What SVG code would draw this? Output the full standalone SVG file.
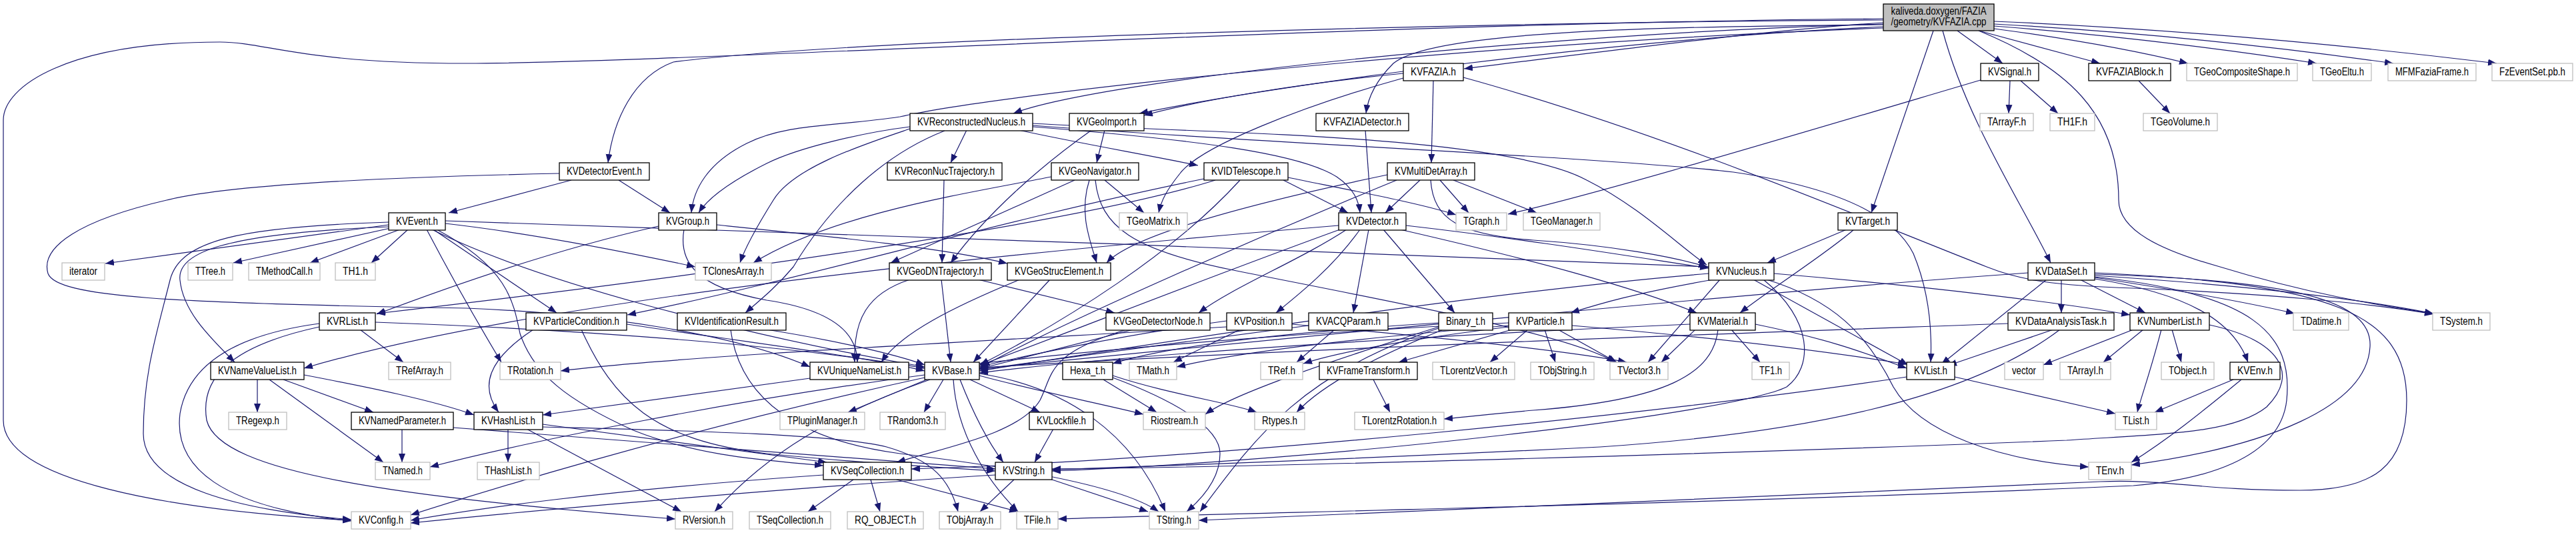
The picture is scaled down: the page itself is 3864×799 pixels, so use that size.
<svg xmlns="http://www.w3.org/2000/svg" width="3864" height="799" viewBox="0 0 3864 799">
<defs>
<marker id="a" markerUnits="userSpaceOnUse" markerWidth="14" markerHeight="11" refX="13" refY="5" orient="auto"><path d="M0,0 L13,5 L0,10 z" fill="#191970"/></marker>
</defs>
<style>
.e path{fill:none;stroke:#191970;stroke-width:1.2;marker-end:url(#a)}
.n rect{fill:#fff;stroke:#000;stroke-width:1.3}
.x rect{fill:#fff;stroke:#bfbfbf;stroke-width:1.3}
.r rect{fill:#bfbfbf;stroke:#000;stroke-width:1.3}
text{font-family:"Liberation Sans",Arial,sans-serif;font-size:16px;text-anchor:middle;fill:#000}
</style>
<rect width="3864" height="799" fill="#fff"/>
<g id="edges" class="e">
<path d="M2825,34 C2650,45 2400,78 2196,103"/>
<path d="M2936,46 L3004,95"/>
<path d="M2968,46 L3150,95"/>
<path d="M2991,43 C3120,60 3220,80 3282,95"/>
<path d="M2991,39 C3200,55 3380,80 3475,95"/>
<path d="M2991,36 C3250,50 3470,78 3590,95"/>
<path d="M2991,32 C3300,45 3580,75 3745,95"/>
<path d="M2900,46 L2807,319"/>
<path d="M2914,46 C2950,180 3030,300 3076,394"/>
<path d="M2968,46 C3100,100 3178,170 3178,300 C3178,345 3240,375 3330,400 C3460,440 3570,458 3650,470"/>
<path d="M2825,30 C2300,33 1300,55 1010,93 C950,115 920,180 912,244"/>
<path d="M2825,28 C2000,35 1000,95 700,95 C450,95 400,63 330,63 C100,63 5,130 5,180 L5,630 C5,720 250,765 527,780"/>
<path d="M2825,36 C2300,50 1650,120 1520,170"/>
<path d="M2825,40 C2400,60 1900,130 1709,170"/>
<path d="M2825,42 C2200,65 1500,140 1350,175 C1250,190 1180,185 1120,215 C1060,245 1040,285 1037,319"/>
<path d="M2825,37 C2500,40 2150,45 2090,95 C2065,120 2052,145 2049,170"/>
<path d="M2105,110 C1950,125 1800,150 1716,173"/>
<path d="M2105,117 C1950,160 1800,220 1770,260 C1750,285 1742,300 1738,319"/>
<path d="M2150,121 L2147,244"/>
<path d="M2195,116 C2500,200 2800,330 2980,400 C3030,420 3080,428 3200,432 C3400,440 3560,455 3650,471"/>
<path d="M3015,121 L3013,170"/>
<path d="M3031,121 L3087,170"/>
<path d="M2971,120 C2700,200 2400,290 2262,321"/>
<path d="M3208,121 L3255,170"/>
<path d="M1450,195 L1426,244"/>
<path d="M1528,195 C1620,215 1720,232 1797,248"/>
<path d="M1365,190 C1300,198 1200,220 1150,245 C1090,275 1060,300 1048,319"/>
<path d="M1365,193 C1300,215 1190,250 1160,300 C1135,340 1118,370 1110,394"/>
<path d="M1417,196 C1330,230 1250,300 1190,400 C1165,430 1140,450 1118,469"/>
<path d="M1549,185 C1800,200 2250,200 2380,270 C2460,310 2520,370 2560,397"/>
<path d="M1549,188 C1900,215 2400,235 2600,258 C2750,280 2840,320 2870,380 C2895,440 2898,500 2896,543"/>
<path d="M1549,190 C1800,210 1950,230 2005,265 C2030,282 2038,300 2040,319"/>
<path d="M1657,195 L1645,244"/>
<path d="M1636,196 C1560,250 1480,320 1426,394"/>
<path d="M1416,270 L1413,394"/>
<path d="M1657,270 L1716,319"/>
<path d="M1612,270 L1336,394"/>
<path d="M1577,265 C1450,290 1250,320 1130,394"/>
<path d="M1634,270 C1618,320 1635,360 1645,394"/>
<path d="M1643,270 C1650,340 1700,375 1850,405 C2100,455 2350,500 2423,543"/>
<path d="M1925,270 L2022,319"/>
<path d="M1932,266 C2050,290 2130,305 2184,322"/>
<path d="M1860,270 C1760,380 1600,480 1470,547"/>
<path d="M1823,270 C1600,340 1000,420 565,470"/>
<path d="M1806,268 C1500,330 1200,420 941,472"/>
<path d="M2048,195 L2057,319"/>
<path d="M2130,270 L2078,319"/>
<path d="M2160,270 L2203,319"/>
<path d="M2180,270 L2305,319"/>
<path d="M2146,270 C2150,330 2190,352 2300,360 C2420,368 2510,385 2561,400"/>
<path d="M2081,262 C1900,300 1700,350 1660,394"/>
<path d="M2095,270 C1900,350 1600,480 1472,550"/>
<path d="M857,270 L673,319"/>
<path d="M928,270 L1005,319"/>
<path d="M839,260 C600,265 350,275 250,300 C120,330 60,370 72,410 C85,445 250,455 700,462 C900,470 1100,500 1215,550"/>
<path d="M583,337 L158,395"/>
<path d="M590,341 L350,394"/>
<path d="M600,344 L465,394"/>
<path d="M612,344 L557,394"/>
<path d="M583,333 C360,340 270,360 255,420 C235,500 215,560 215,650 C215,730 360,765 527,779"/>
<path d="M583,340 C330,350 265,380 270,420 C275,470 320,510 352,543"/>
<path d="M650,344 L835,469"/>
<path d="M668,335 C800,350 950,380 1043,400"/>
<path d="M640,344 C680,420 720,490 752,543"/>
<path d="M668,331 C1200,350 2000,375 2563,400"/>
<path d="M648,344 C800,420 1100,500 1387,550"/>
<path d="M655,344 C760,400 770,450 780,500 C800,560 850,600 950,645 C1050,685 1150,690 1235,698"/>
<path d="M1075,337 C1250,355 1420,372 1511,395"/>
<path d="M988,339 C850,370 700,420 565,471"/>
<path d="M1026,344 C1018,390 1040,430 1150,450 C1250,465 1286,500 1286,543"/>
<path d="M540,494 L605,543"/>
<path d="M479,485 C330,505 280,560 270,620 C260,700 330,760 527,781"/>
<path d="M563,483 C900,495 1200,520 1387,552"/>
<path d="M479,490 C340,520 300,570 310,630 C330,710 600,745 1013,778"/>
<path d="M386,569 L386,618"/>
<path d="M425,569 L560,618"/>
<path d="M404,569 L575,693"/>
<path d="M456,562 C550,580 650,600 711,622"/>
<path d="M603,643 L603,693"/>
<path d="M680,641 C900,660 1200,680 1493,703"/>
<path d="M762,643 L762,693"/>
<path d="M790,643 L1022,767"/>
<path d="M814,636 C1000,660 1150,680 1240,693"/>
<path d="M814,640 C1000,645 1250,650 1330,670 C1400,690 1425,720 1437,767"/>
<path d="M1215,567 L814,622"/>
<path d="M1280,719 L1212,767"/>
<path d="M1306,719 L1320,767"/>
<path d="M1345,719 L1527,767"/>
<path d="M1235,712 C900,735 700,765 616,780"/>
<path d="M1521,719 L1470,767"/>
<path d="M1575,718 L1722,767"/>
<path d="M1493,712 C1200,730 800,765 616,784"/>
<path d="M1580,643 L1552,693"/>
<path d="M1415,569 L1386,618"/>
<path d="M1455,569 L1560,618"/>
<path d="M1469,563 C1550,585 1650,605 1715,621"/>
<path d="M1469,560 C1600,580 1700,650 1748,767"/>
<path d="M1430,569 C1435,650 1480,720 1527,767"/>
<path d="M1390,569 L1272,618"/>
<path d="M1387,562 C1100,600 800,660 645,700"/>
<path d="M1387,566 C1000,650 700,745 616,772"/>
<path d="M1395,569 C1250,620 1150,680 1072,767"/>
<path d="M1440,569 C1460,620 1480,660 1505,693"/>
<path d="M1655,569 L1735,618"/>
<path d="M1669,563 C1750,590 1850,605 1885,618"/>
<path d="M1669,566 C1760,600 1830,640 1830,680 C1830,720 1800,750 1780,767"/>
<path d="M1860,494 L1760,543"/>
<path d="M1840,481 C1700,500 1550,530 1469,550"/>
<path d="M1938,486 C2150,505 2350,525 2440,543"/>
<path d="M1840,490 C1500,510 1000,535 841,556"/>
<path d="M1700,494 L1469,553"/>
<path d="M1690,494 C1570,530 1580,560 1560,600 C1530,650 1420,670 1345,693"/>
<path d="M1412,419 L1426,543"/>
<path d="M1365,419 C1300,440 1280,480 1282,543"/>
<path d="M1467,419 L1672,469"/>
<path d="M1575,419 L1460,543"/>
<path d="M1530,419 C1430,460 1350,500 1322,543"/>
<path d="M2053,344 L2030,469"/>
<path d="M2040,344 C2000,400 1950,440 1914,469"/>
<path d="M2075,344 L2182,469"/>
<path d="M2100,344 C2300,390 2450,430 2545,469"/>
<path d="M2109,338 C2300,360 2450,385 2563,402"/>
<path d="M2010,344 C1800,420 1600,500 1469,548"/>
<path d="M2008,338 C1500,380 800,450 456,552"/>
<path d="M2020,344 C1950,390 1850,430 1798,469"/>
<path d="M2770,344 L2651,394"/>
<path d="M2781,344 C2740,380 2660,430 2610,469"/>
<path d="M2570,419 C2450,440 2400,455 2356,469"/>
<path d="M2580,419 L2472,543"/>
<path d="M2661,410 C2900,430 3100,455 3195,472"/>
<path d="M2650,419 C2750,450 2800,500 2840,580 C2880,650 3000,690 3133,700"/>
<path d="M2645,419 C2720,480 2720,550 2680,580 C2600,620 2000,690 1578,706"/>
<path d="M2630,419 L2862,547"/>
<path d="M2563,410 C2200,440 1700,520 1469,556"/>
<path d="M2597,494 L2640,543"/>
<path d="M2633,486 C2750,510 2800,530 2860,552"/>
<path d="M2535,486 C2200,500 1700,530 1469,559"/>
<path d="M2543,494 L2492,543"/>
<path d="M2577,494 C2570,560 2500,600 2300,615 C2220,622 2190,626 2166,628"/>
<path d="M2292,494 L2235,543"/>
<path d="M2317,494 L2333,543"/>
<path d="M2337,494 L2425,543"/>
<path d="M2268,494 L2098,543"/>
<path d="M2263,484 C1900,500 1600,530 1469,545"/>
<path d="M2358,488 C2500,500 2700,520 2860,546"/>
<path d="M2263,490 C2100,510 2000,530 1955,545"/>
<path d="M2263,488 C2000,510 1850,530 1765,550"/>
<path d="M2158,484 C1900,500 1750,520 1669,545"/>
<path d="M2158,490 C2000,540 1850,590 1808,621"/>
<path d="M2158,492 C1950,560 1880,660 1800,767"/>
<path d="M2165,494 C2050,540 1980,580 1945,618"/>
<path d="M2002,494 L1945,543"/>
<path d="M1963,488 C1800,510 1600,535 1469,554"/>
<path d="M2060,569 L2085,618"/>
<path d="M1150,494 C1250,510 1340,530 1387,547"/>
<path d="M1096,494 C1110,600 1200,660 1350,680 C1600,710 1700,740 1738,767"/>
<path d="M800,494 C730,540 720,580 748,618"/>
<path d="M872,494 C920,600 980,660 1150,680 C1300,695 1400,700 1493,706"/>
<path d="M940,486 C1100,510 1300,535 1387,556"/>
<path d="M3258,494 L3272,543"/>
<path d="M3242,494 C3225,560 3210,600 3206,618"/>
<path d="M3314,487 C3420,510 3450,560 3400,610 C3350,650 3250,650 3100,660 C2600,680 1900,700 1578,703"/>
<path d="M3200,494 L3065,547"/>
<path d="M3215,494 L3155,543"/>
<path d="M3350,569 L3232,618"/>
<path d="M3362,569 C3300,620 3250,660 3197,693"/>
<path d="M2932,565 L3173,620"/>
<path d="M2860,565 C2500,620 1800,690 1367,703"/>
<path d="M3080,494 L2922,548"/>
<path d="M3012,485 C2600,500 2000,520 1469,551"/>
<path d="M3090,494 C2950,600 2700,650 2400,670 C2000,690 1700,700 1578,704"/>
<path d="M3092,419 L3092,469"/>
<path d="M3070,419 L2912,546"/>
<path d="M3120,419 L3218,469"/>
<path d="M3142,416 C3300,440 3400,460 3442,470"/>
<path d="M3142,413 C3400,430 3560,452 3650,470"/>
<path d="M3142,418 C3280,440 3350,480 3372,543"/>
<path d="M3142,411 C3400,420 3560,440 3555,520 C3550,610 3400,670 3197,697"/>
<path d="M3142,409 C3500,425 3610,470 3610,600 C3610,700 3560,735 3450,735 C3300,735 3250,718 3150,722 C2800,735 2200,765 1798,780"/>
<path d="M3142,415 C3380,440 3440,500 3430,600 C3420,690 3300,720 3200,728 C2600,755 1800,770 1587,778"/>
<path d="M3042,409 C2600,440 1800,520 1469,553"/>
</g>
<g id="root" class="r"><rect x="2825" y="6" width="166" height="40"/><text x="2908" y="22" textLength="143" lengthAdjust="spacingAndGlyphs">kaliveda.doxygen/FAZIA</text><text x="2908" y="38" textLength="143" lengthAdjust="spacingAndGlyphs">/geometry/KVFAZIA.cpp</text></g>
<g id="KVFAZIA_h" class="n"><rect x="2105" y="95" width="90" height="26"/><text x="2150" y="113" textLength="68" lengthAdjust="spacingAndGlyphs">KVFAZIA.h</text></g>
<g id="KVSignal_h" class="n"><rect x="2971" y="95" width="87" height="26"/><text x="3014.5" y="113" textLength="65" lengthAdjust="spacingAndGlyphs">KVSignal.h</text></g>
<g id="KVFAZIABlock_h" class="n"><rect x="3133" y="95" width="123" height="26"/><text x="3194.5" y="113" textLength="101" lengthAdjust="spacingAndGlyphs">KVFAZIABlock.h</text></g>
<g id="TGeoCompositeShape_h" class="x"><rect x="3280" y="95" width="166" height="26"/><text x="3363" y="113" textLength="144" lengthAdjust="spacingAndGlyphs">TGeoCompositeShape.h</text></g>
<g id="TGeoEltu_h" class="x"><rect x="3469" y="95" width="88" height="26"/><text x="3513" y="113" textLength="66" lengthAdjust="spacingAndGlyphs">TGeoEltu.h</text></g>
<g id="MFMFaziaFrame_h" class="x"><rect x="3582" y="95" width="132" height="26"/><text x="3648" y="113" textLength="110" lengthAdjust="spacingAndGlyphs">MFMFaziaFrame.h</text></g>
<g id="FzEventSet_pb_h" class="x"><rect x="3738" y="95" width="121" height="26"/><text x="3798.5" y="113" textLength="99" lengthAdjust="spacingAndGlyphs">FzEventSet.pb.h</text></g>
<g id="KVReconstructedNucleus_h" class="n"><rect x="1365" y="170" width="184" height="26"/><text x="1457" y="188" textLength="162" lengthAdjust="spacingAndGlyphs">KVReconstructedNucleus.h</text></g>
<g id="KVGeoImport_h" class="n"><rect x="1604" y="170" width="112" height="26"/><text x="1660" y="188" textLength="90" lengthAdjust="spacingAndGlyphs">KVGeoImport.h</text></g>
<g id="KVFAZIADetector_h" class="n"><rect x="1974" y="170" width="139" height="26"/><text x="2043.5" y="188" textLength="117" lengthAdjust="spacingAndGlyphs">KVFAZIADetector.h</text></g>
<g id="TArrayF_h" class="x"><rect x="2970" y="170" width="80" height="26"/><text x="3010" y="188" textLength="58" lengthAdjust="spacingAndGlyphs">TArrayF.h</text></g>
<g id="TH1F_h" class="x"><rect x="3075" y="170" width="67" height="26"/><text x="3108.5" y="188" textLength="45" lengthAdjust="spacingAndGlyphs">TH1F.h</text></g>
<g id="TGeoVolume_h" class="x"><rect x="3215" y="170" width="111" height="26"/><text x="3270.5" y="188" textLength="89" lengthAdjust="spacingAndGlyphs">TGeoVolume.h</text></g>
<g id="KVDetectorEvent_h" class="n"><rect x="839" y="244" width="135" height="26"/><text x="906.5" y="262" textLength="113" lengthAdjust="spacingAndGlyphs">KVDetectorEvent.h</text></g>
<g id="KVReconNucTrajectory_h" class="n"><rect x="1331" y="244" width="172" height="26"/><text x="1417" y="262" textLength="150" lengthAdjust="spacingAndGlyphs">KVReconNucTrajectory.h</text></g>
<g id="KVGeoNavigator_h" class="n"><rect x="1577" y="244" width="131" height="26"/><text x="1642.5" y="262" textLength="109" lengthAdjust="spacingAndGlyphs">KVGeoNavigator.h</text></g>
<g id="KVIDTelescope_h" class="n"><rect x="1806" y="244" width="126" height="26"/><text x="1869" y="262" textLength="104" lengthAdjust="spacingAndGlyphs">KVIDTelescope.h</text></g>
<g id="KVMultiDetArray_h" class="n"><rect x="2081" y="244" width="131" height="26"/><text x="2146.5" y="262" textLength="109" lengthAdjust="spacingAndGlyphs">KVMultiDetArray.h</text></g>
<g id="KVEvent_h" class="n"><rect x="583" y="319" width="85" height="26"/><text x="625.5" y="337" textLength="63" lengthAdjust="spacingAndGlyphs">KVEvent.h</text></g>
<g id="KVGroup_h" class="n"><rect x="988" y="319" width="87" height="26"/><text x="1031.5" y="337" textLength="65" lengthAdjust="spacingAndGlyphs">KVGroup.h</text></g>
<g id="TGeoMatrix_h" class="x"><rect x="1679" y="319" width="102" height="26"/><text x="1730" y="337" textLength="80" lengthAdjust="spacingAndGlyphs">TGeoMatrix.h</text></g>
<g id="KVDetector_h" class="n"><rect x="2008" y="319" width="101" height="26"/><text x="2058.5" y="337" textLength="79" lengthAdjust="spacingAndGlyphs">KVDetector.h</text></g>
<g id="TGraph_h" class="x"><rect x="2184" y="319" width="76" height="26"/><text x="2222" y="337" textLength="54" lengthAdjust="spacingAndGlyphs">TGraph.h</text></g>
<g id="TGeoManager_h" class="x"><rect x="2285" y="319" width="115" height="26"/><text x="2342.5" y="337" textLength="93" lengthAdjust="spacingAndGlyphs">TGeoManager.h</text></g>
<g id="KVTarget_h" class="n"><rect x="2757" y="319" width="89" height="26"/><text x="2801.5" y="337" textLength="67" lengthAdjust="spacingAndGlyphs">KVTarget.h</text></g>
<g id="iterator" class="x"><rect x="93" y="394" width="64" height="26"/><text x="125" y="412" textLength="42" lengthAdjust="spacingAndGlyphs">iterator</text></g>
<g id="TTree_h" class="x"><rect x="282" y="394" width="67" height="26"/><text x="315.5" y="412" textLength="45" lengthAdjust="spacingAndGlyphs">TTree.h</text></g>
<g id="TMethodCall_h" class="x"><rect x="373" y="394" width="107" height="26"/><text x="426.5" y="412" textLength="85" lengthAdjust="spacingAndGlyphs">TMethodCall.h</text></g>
<g id="TH1_h" class="x"><rect x="503" y="394" width="60" height="26"/><text x="533" y="412" textLength="38" lengthAdjust="spacingAndGlyphs">TH1.h</text></g>
<g id="TClonesArray_h" class="x"><rect x="1043" y="394" width="114" height="26"/><text x="1100" y="412" textLength="92" lengthAdjust="spacingAndGlyphs">TClonesArray.h</text></g>
<g id="KVGeoDNTrajectory_h" class="n"><rect x="1334" y="394" width="153" height="26"/><text x="1410.5" y="412" textLength="131" lengthAdjust="spacingAndGlyphs">KVGeoDNTrajectory.h</text></g>
<g id="KVGeoStrucElement_h" class="n"><rect x="1511" y="394" width="155" height="26"/><text x="1588.5" y="412" textLength="133" lengthAdjust="spacingAndGlyphs">KVGeoStrucElement.h</text></g>
<g id="KVNucleus_h" class="n"><rect x="2563" y="394" width="98" height="26"/><text x="2612" y="412" textLength="76" lengthAdjust="spacingAndGlyphs">KVNucleus.h</text></g>
<g id="KVDataSet_h" class="n"><rect x="3042" y="394" width="100" height="26"/><text x="3092" y="412" textLength="78" lengthAdjust="spacingAndGlyphs">KVDataSet.h</text></g>
<g id="KVRList_h" class="n"><rect x="479" y="469" width="84" height="26"/><text x="521" y="487" textLength="62" lengthAdjust="spacingAndGlyphs">KVRList.h</text></g>
<g id="KVParticleCondition_h" class="n"><rect x="789" y="469" width="151" height="26"/><text x="864.5" y="487" textLength="129" lengthAdjust="spacingAndGlyphs">KVParticleCondition.h</text></g>
<g id="KVIdentificationResult_h" class="n"><rect x="1016" y="469" width="163" height="26"/><text x="1097.5" y="487" textLength="141" lengthAdjust="spacingAndGlyphs">KVIdentificationResult.h</text></g>
<g id="KVGeoDetectorNode_h" class="n"><rect x="1659" y="469" width="156" height="26"/><text x="1737" y="487" textLength="134" lengthAdjust="spacingAndGlyphs">KVGeoDetectorNode.h</text></g>
<g id="KVPosition_h" class="n"><rect x="1840" y="469" width="98" height="26"/><text x="1889" y="487" textLength="76" lengthAdjust="spacingAndGlyphs">KVPosition.h</text></g>
<g id="KVACQParam_h" class="n"><rect x="1963" y="469" width="119" height="26"/><text x="2022.5" y="487" textLength="97" lengthAdjust="spacingAndGlyphs">KVACQParam.h</text></g>
<g id="Binary_t_h" class="n"><rect x="2158" y="469" width="81" height="26"/><text x="2198.5" y="487" textLength="59" lengthAdjust="spacingAndGlyphs">Binary_t.h</text></g>
<g id="KVParticle_h" class="n"><rect x="2263" y="469" width="95" height="26"/><text x="2310.5" y="487" textLength="73" lengthAdjust="spacingAndGlyphs">KVParticle.h</text></g>
<g id="KVMaterial_h" class="n"><rect x="2535" y="469" width="98" height="26"/><text x="2584" y="487" textLength="76" lengthAdjust="spacingAndGlyphs">KVMaterial.h</text></g>
<g id="KVDataAnalysisTask_h" class="n"><rect x="3012" y="469" width="159" height="26"/><text x="3091.5" y="487" textLength="137" lengthAdjust="spacingAndGlyphs">KVDataAnalysisTask.h</text></g>
<g id="KVNumberList_h" class="n"><rect x="3195" y="469" width="119" height="26"/><text x="3254.5" y="487" textLength="97" lengthAdjust="spacingAndGlyphs">KVNumberList.h</text></g>
<g id="TDatime_h" class="x"><rect x="3440" y="469" width="83" height="26"/><text x="3481.5" y="487" textLength="61" lengthAdjust="spacingAndGlyphs">TDatime.h</text></g>
<g id="TSystem_h" class="x"><rect x="3649" y="469" width="86" height="26"/><text x="3692" y="487" textLength="64" lengthAdjust="spacingAndGlyphs">TSystem.h</text></g>
<g id="KVNameValueList_h" class="n"><rect x="316" y="543" width="140" height="26"/><text x="386" y="561" textLength="118" lengthAdjust="spacingAndGlyphs">KVNameValueList.h</text></g>
<g id="TRefArray_h" class="x"><rect x="583" y="543" width="93" height="26"/><text x="629.5" y="561" textLength="71" lengthAdjust="spacingAndGlyphs">TRefArray.h</text></g>
<g id="TRotation_h" class="x"><rect x="750" y="543" width="91" height="26"/><text x="795.5" y="561" textLength="69" lengthAdjust="spacingAndGlyphs">TRotation.h</text></g>
<g id="KVUniqueNameList_h" class="n"><rect x="1215" y="543" width="148" height="26"/><text x="1289" y="561" textLength="126" lengthAdjust="spacingAndGlyphs">KVUniqueNameList.h</text></g>
<g id="KVBase_h" class="n"><rect x="1387" y="543" width="82" height="26"/><text x="1428" y="561" textLength="60" lengthAdjust="spacingAndGlyphs">KVBase.h</text></g>
<g id="Hexa_t_h" class="n"><rect x="1594" y="543" width="75" height="26"/><text x="1631.5" y="561" textLength="53" lengthAdjust="spacingAndGlyphs">Hexa_t.h</text></g>
<g id="TMath_h" class="x"><rect x="1694" y="543" width="71" height="26"/><text x="1729.5" y="561" textLength="49" lengthAdjust="spacingAndGlyphs">TMath.h</text></g>
<g id="TRef_h" class="x"><rect x="1891" y="543" width="63" height="26"/><text x="1922.5" y="561" textLength="41" lengthAdjust="spacingAndGlyphs">TRef.h</text></g>
<g id="KVFrameTransform_h" class="n"><rect x="1979" y="543" width="147" height="26"/><text x="2052.5" y="561" textLength="125" lengthAdjust="spacingAndGlyphs">KVFrameTransform.h</text></g>
<g id="TLorentzVector_h" class="x"><rect x="2149" y="543" width="123" height="26"/><text x="2210.5" y="561" textLength="101" lengthAdjust="spacingAndGlyphs">TLorentzVector.h</text></g>
<g id="TObjString_h" class="x"><rect x="2296" y="543" width="95" height="26"/><text x="2343.5" y="561" textLength="73" lengthAdjust="spacingAndGlyphs">TObjString.h</text></g>
<g id="TVector3_h" class="x"><rect x="2415" y="543" width="87" height="26"/><text x="2458.5" y="561" textLength="65" lengthAdjust="spacingAndGlyphs">TVector3.h</text></g>
<g id="TF1_h" class="x"><rect x="2628" y="543" width="56" height="26"/><text x="2656" y="561" textLength="34" lengthAdjust="spacingAndGlyphs">TF1.h</text></g>
<g id="KVList_h" class="n"><rect x="2860" y="543" width="72" height="26"/><text x="2896" y="561" textLength="50" lengthAdjust="spacingAndGlyphs">KVList.h</text></g>
<g id="vector" class="x"><rect x="3007" y="543" width="58" height="26"/><text x="3036" y="561" textLength="36" lengthAdjust="spacingAndGlyphs">vector</text></g>
<g id="TArrayI_h" class="x"><rect x="3090" y="543" width="76" height="26"/><text x="3128" y="561" textLength="54" lengthAdjust="spacingAndGlyphs">TArrayI.h</text></g>
<g id="TObject_h" class="x"><rect x="3242" y="543" width="79" height="26"/><text x="3281.5" y="561" textLength="57" lengthAdjust="spacingAndGlyphs">TObject.h</text></g>
<g id="KVEnv_h" class="n"><rect x="3345" y="543" width="75" height="26"/><text x="3382.5" y="561" textLength="53" lengthAdjust="spacingAndGlyphs">KVEnv.h</text></g>
<g id="TRegexp_h" class="x"><rect x="343" y="618" width="87" height="26"/><text x="386.5" y="636" textLength="65" lengthAdjust="spacingAndGlyphs">TRegexp.h</text></g>
<g id="KVNamedParameter_h" class="n"><rect x="527" y="618" width="153" height="26"/><text x="603.5" y="636" textLength="131" lengthAdjust="spacingAndGlyphs">KVNamedParameter.h</text></g>
<g id="KVHashList_h" class="n"><rect x="711" y="618" width="103" height="26"/><text x="762.5" y="636" textLength="81" lengthAdjust="spacingAndGlyphs">KVHashList.h</text></g>
<g id="TPluginManager_h" class="x"><rect x="1170" y="618" width="127" height="26"/><text x="1233.5" y="636" textLength="105" lengthAdjust="spacingAndGlyphs">TPluginManager.h</text></g>
<g id="TRandom3_h" class="x"><rect x="1320" y="618" width="98" height="26"/><text x="1369" y="636" textLength="76" lengthAdjust="spacingAndGlyphs">TRandom3.h</text></g>
<g id="KVLockfile_h" class="n"><rect x="1544" y="618" width="96" height="26"/><text x="1592" y="636" textLength="74" lengthAdjust="spacingAndGlyphs">KVLockfile.h</text></g>
<g id="Riostream_h" class="x"><rect x="1715" y="618" width="93" height="26"/><text x="1761.5" y="636" textLength="71" lengthAdjust="spacingAndGlyphs">Riostream.h</text></g>
<g id="Rtypes_h" class="x"><rect x="1882" y="618" width="75" height="26"/><text x="1919.5" y="636" textLength="53" lengthAdjust="spacingAndGlyphs">Rtypes.h</text></g>
<g id="TLorentzRotation_h" class="x"><rect x="2032" y="618" width="134" height="26"/><text x="2099" y="636" textLength="112" lengthAdjust="spacingAndGlyphs">TLorentzRotation.h</text></g>
<g id="TList_h" class="x"><rect x="3173" y="618" width="62" height="26"/><text x="3204" y="636" textLength="40" lengthAdjust="spacingAndGlyphs">TList.h</text></g>
<g id="TNamed_h" class="x"><rect x="563" y="693" width="82" height="26"/><text x="604" y="711" textLength="60" lengthAdjust="spacingAndGlyphs">TNamed.h</text></g>
<g id="THashList_h" class="x"><rect x="716" y="693" width="93" height="26"/><text x="762.5" y="711" textLength="71" lengthAdjust="spacingAndGlyphs">THashList.h</text></g>
<g id="KVSeqCollection_h" class="n"><rect x="1235" y="693" width="132" height="26"/><text x="1301" y="711" textLength="110" lengthAdjust="spacingAndGlyphs">KVSeqCollection.h</text></g>
<g id="KVString_h" class="n"><rect x="1493" y="693" width="85" height="26"/><text x="1535.5" y="711" textLength="63" lengthAdjust="spacingAndGlyphs">KVString.h</text></g>
<g id="TEnv_h" class="x"><rect x="3133" y="693" width="64" height="26"/><text x="3165" y="711" textLength="42" lengthAdjust="spacingAndGlyphs">TEnv.h</text></g>
<g id="KVConfig_h" class="x"><rect x="527" y="767" width="89" height="26"/><text x="571.5" y="785" textLength="67" lengthAdjust="spacingAndGlyphs">KVConfig.h</text></g>
<g id="RVersion_h" class="x"><rect x="1013" y="767" width="86" height="26"/><text x="1056" y="785" textLength="64" lengthAdjust="spacingAndGlyphs">RVersion.h</text></g>
<g id="TSeqCollection_h" class="x"><rect x="1124" y="767" width="122" height="26"/><text x="1185" y="785" textLength="100" lengthAdjust="spacingAndGlyphs">TSeqCollection.h</text></g>
<g id="RQ_OBJECT_h" class="x"><rect x="1271" y="767" width="114" height="26"/><text x="1328" y="785" textLength="92" lengthAdjust="spacingAndGlyphs">RQ_OBJECT.h</text></g>
<g id="TObjArray_h" class="x"><rect x="1409" y="767" width="92" height="26"/><text x="1455" y="785" textLength="70" lengthAdjust="spacingAndGlyphs">TObjArray.h</text></g>
<g id="TFile_h" class="x"><rect x="1525" y="767" width="62" height="26"/><text x="1556" y="785" textLength="40" lengthAdjust="spacingAndGlyphs">TFile.h</text></g>
<g id="TString_h" class="x"><rect x="1724" y="767" width="74" height="26"/><text x="1761" y="785" textLength="52" lengthAdjust="spacingAndGlyphs">TString.h</text></g>
</svg>
